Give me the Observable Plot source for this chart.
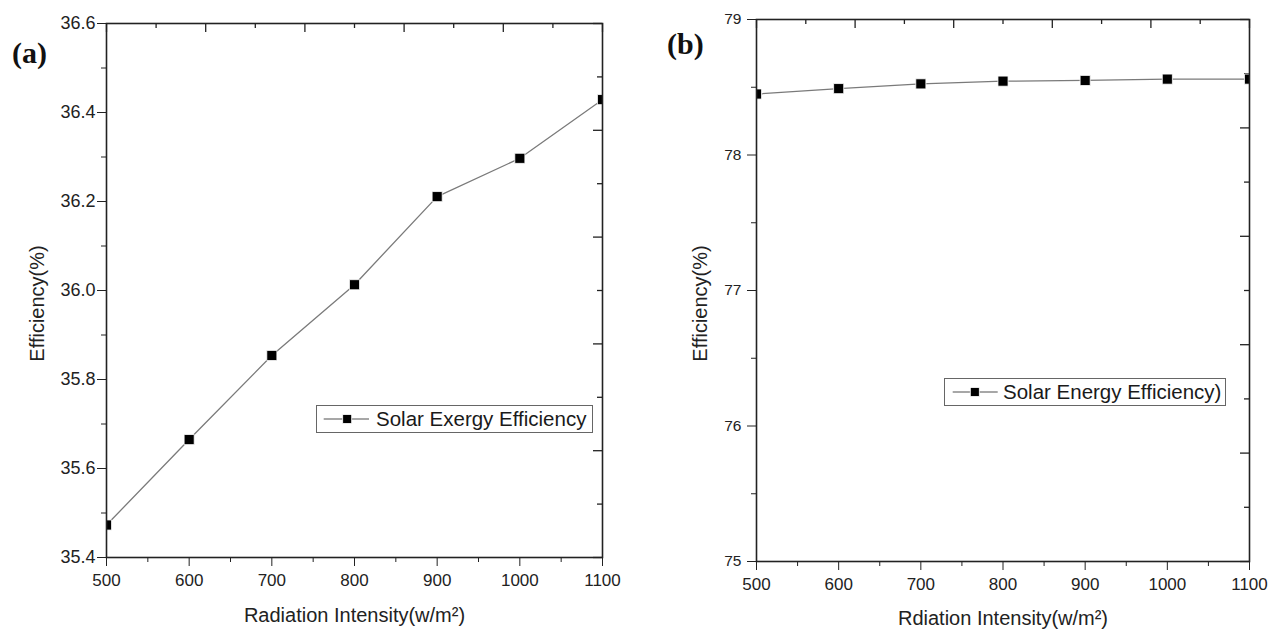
<!DOCTYPE html>
<html>
<head>
<meta charset="utf-8">
<script src="https://cdn.jsdelivr.net/npm/d3@7"></script>
<script src="https://cdn.jsdelivr.net/npm/@observablehq/plot@0.6"></script>
<style>
  html, body { margin: 0; padding: 0; background: #fff; }
  #wrap { position: relative; width: 1270px; height: 630px; overflow: hidden; background: #fff; font-family: "Liberation Sans", Arial, sans-serif; color: #222; }
  .panel { position: absolute; top: 0; }
  .tag { position: absolute; font-family: "Liberation Serif", "Times New Roman", serif; font-weight: bold; font-size: 30px; color: #111; line-height: 1; }
  .legend { position: absolute; border: 1px solid #666; background: #fff; display: flex; align-items: center; box-sizing: border-box; }
  .legend span { font-size: 20.5px; color: #1a1a1a; white-space: nowrap; }
</style>
</head>
<body>
<div id="wrap">
  <div class="panel" id="pa" style="left:0"></div>
  <div class="panel" id="pb" style="left:635px"></div>
  <div class="tag" style="left:12px; top:38px">(a)</div>
  <div class="tag" style="left:667px; top:29px">(b)</div>
  <div class="legend" id="lega" style="left:316px; top:405px; width:277px; height:28px;"></div>
  <div class="legend" id="legb" style="left:944px; top:378px; width:282px; height:28px;"></div>
</div>
<script>
// ---- data ----
const radiation = [500, 600, 700, 800, 900, 1000, 1100];
const exergyEfficiency = [35.473, 35.665, 35.854, 36.013, 36.211, 36.297, 36.429];
const energyEfficiency = [78.45, 78.49, 78.525, 78.545, 78.55, 78.56, 78.56];

// ---- ticks ----
const xTicks = [500, 600, 700, 800, 900, 1000, 1100];
const xMinorTicks = [550, 650, 750, 850, 950, 1050];
const topMajorTicks = [500, 620, 740, 860, 980, 1100];
const topMinorTicks = [560, 680, 800, 920, 1040];
const yTicksA = [35.4, 35.6, 35.8, 36.0, 36.2, 36.4, 36.6];
const yMinorTicksA = [35.5, 35.7, 35.9, 36.1, 36.3, 36.5];
const rightMajorA = [35.4, 35.64, 35.88, 36.12, 36.36, 36.6];
const rightMinorA = [35.52, 35.76, 36.0, 36.24, 36.48];
const yTicksB = [75, 76, 77, 78, 79];
const yMinorTicksB = [75.5, 76.5, 77.5, 78.5];
const rightMajorB = [75, 75.8, 76.6, 77.4, 78.2, 79];
const rightMinorB = [75.4, 76.2, 77.0, 77.8, 78.6];

const labelsA = { y: "Efficiency(%)", x: "Radiation Intensity(w/m²)", legend: "Solar Exergy Efficiency" };
const labelsB = { y: "Efficiency(%)", x: "Rdiation Intensity(w/m²)", legend: "Solar Energy Efficiency)" };

const dataA = radiation.map((r, i) => ({ r, e: exergyEfficiency[i] }));
const dataB = radiation.map((r, i) => ({ r, e: energyEfficiency[i] }));

function panel(opts) {
  const { data, yDomain, yTicks, yMinor, rightMajor, rightMinor, fmt, m, yFont, yPad, labels, yLabelDx, xLabelDy } = opts;
  const W = 635, H = 630;
  const innerW = W - m.left - m.right, innerH = H - m.top - m.bottom;
  return Plot.plot({
    width: W, height: H,
    marginTop: m.top, marginBottom: m.bottom, marginLeft: m.left, marginRight: m.right,
    style: { fontFamily: "'Liberation Sans', Arial, sans-serif", color: "#222", background: "transparent" },
    x: { domain: [500, 1100] },
    y: { domain: yDomain },
    marks: [
      Plot.axisX({ ticks: xTicks, tickSize: 9, tickPadding: 7, fontSize: 17, label: null, tickFormat: d3.format("d") }),
      Plot.axisX({ ticks: xMinorTicks, tickSize: 5, tickFormat: () => "", label: null }),
      Plot.axisY({ ticks: yTicks, tickSize: 9, tickPadding: yPad, fontSize: yFont, label: null, tickFormat: fmt }),
      Plot.axisY({ ticks: yMinor, tickSize: 5, tickFormat: () => "", label: null }),
      Plot.tickX(topMajorTicks, { x: d => d, stroke: "#222", strokeWidth: 1.3, insetBottom: innerH - 9 }),
      Plot.tickX(topMinorTicks, { x: d => d, stroke: "#222", strokeWidth: 1.3, insetBottom: innerH - 5 }),
      Plot.tickY(rightMajor, { y: d => d, stroke: "#222", strokeWidth: 1.3, insetLeft: innerW - 9 }),
      Plot.tickY(rightMinor, { y: d => d, stroke: "#222", strokeWidth: 1.3, insetLeft: innerW - 5 }),
      Plot.line(data, { x: "r", y: "e", stroke: "#7a7a7a", strokeWidth: 1.3, clip: true }),
      Plot.dot(data, { x: "r", y: "e", symbol: "square", r: 5.7, fill: "#000", stroke: "#fff", strokeWidth: 0.8, clip: true }),
      Plot.frame({ stroke: "#222", strokeWidth: 1.6 }),
      Plot.text([labels.y], { text: d => d, frameAnchor: "left", textAnchor: "middle", lineAnchor: "middle", rotate: -90, dx: yLabelDx, dy: 13, fontSize: 20, fill: "#222" }),
      Plot.text([labels.x], { text: d => d, frameAnchor: "bottom", textAnchor: "middle", dy: xLabelDy, fontSize: 20, fill: "#222", lineAnchor: "middle" })
    ]
  });
}

document.getElementById("pa").append(panel({
  data: dataA, yDomain: [35.4, 36.6], yTicks: yTicksA, yMinor: yMinorTicksA,
  rightMajor: rightMajorA, rightMinor: rightMinorA, fmt: d3.format(".1f"),
  m: { top: 23, bottom: 73, left: 106, right: 33 }, yFont: 18, yPad: 2,
  labels: labelsA, yLabelDx: -68.5, xLabelDy: 58
}));

document.getElementById("pb").append(panel({
  data: dataB, yDomain: [75, 79], yTicks: yTicksB, yMinor: yMinorTicksB,
  rightMajor: rightMajorB, rightMinor: rightMinorB, fmt: d3.format("d"),
  m: { top: 19, bottom: 69, left: 121, right: 21 }, yFont: 15.5, yPad: 6,
  labels: labelsB, yLabelDx: -56, xLabelDy: 57
}));

function legend(id, text, lineX0, lineX1, sqX, textX, boxLeft) {
  const el = document.getElementById(id);
  const svgW = textX - boxLeft - 1;
  el.innerHTML =
    `<svg width="${svgW}" height="26" style="display:block;flex:none">` +
    `<line x1="${lineX0 - boxLeft}" x2="${lineX1 - boxLeft}" y1="13" y2="13" stroke="#8a8a8a" stroke-width="1.3"/>` +
    `<rect x="${sqX - boxLeft - 5}" y="8.5" width="9" height="9" fill="#000" stroke="#fff" stroke-width="0.8"/>` +
    `</svg><span>${text}</span>`;
}
legend("lega", labelsA.legend, 322.7, 368, 346.7, 376, 316);
legend("legb", labelsB.legend, 951.7, 996.7, 974.3, 1003, 944);
</script>
</body>
</html>
